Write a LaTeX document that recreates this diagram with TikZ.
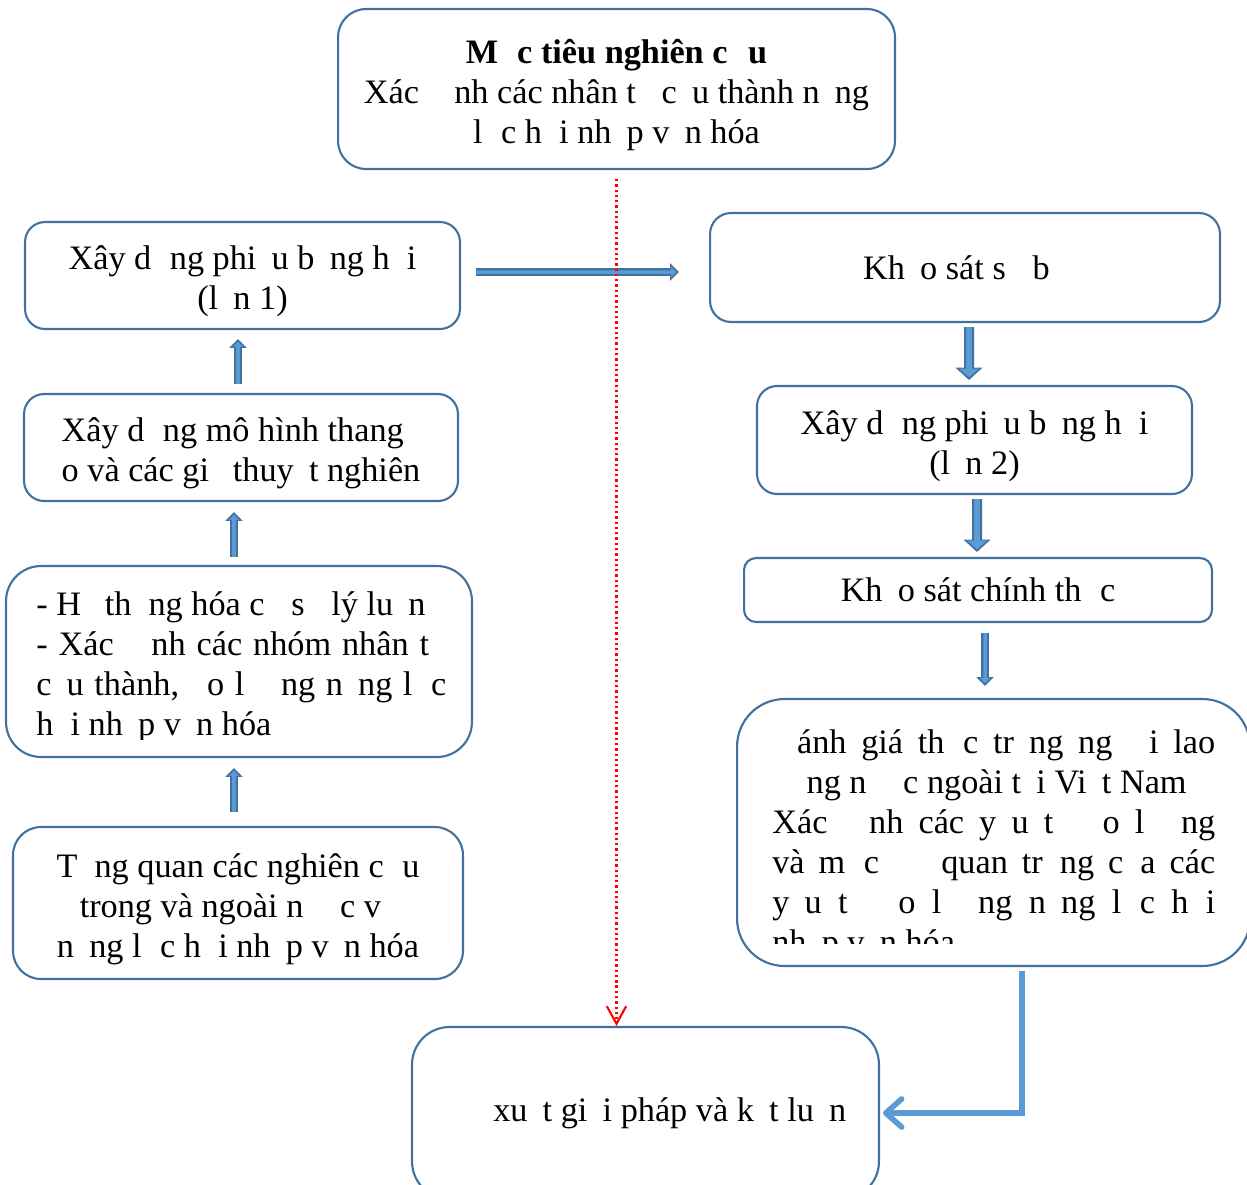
\documentclass[tikz,border=0pt]{standalone}
\usepackage{fontspec}
\setmainfont{Liberation Serif}
\usepackage{tikz}
\usetikzlibrary{arrows.meta, positioning}
\definecolor{boxline}{HTML}{41719C}
\definecolor{arrowfill}{HTML}{5B9BD5}
\definecolor{arrowline}{HTML}{41719C}
\newcommand{\gap}[1]{\hphantom{#1}}
\newcommand{\topstrut}{\rule{0pt}{1.04em}}
\setlength{\parindent}{0pt}
\hyphenpenalty=10000
\exhyphenpenalty=10000
\tolerance=9999

\begin{document}
\begin{tikzpicture}[
    x=0.02cm, y=-0.02cm,
    every node/.style={font=\fontsize{19.5}{22.8}\selectfont},
    box/.style={rectangle, rounded corners=0.4cm, draw=boxline, line width=1.2pt, align=center, inner sep=2pt},
    txt/.style={align=justify, inner sep=0pt, anchor=north west},
    blockarr/.style={preaction={draw=arrowline, line width=4.4pt, -{Triangle[width=9.5pt, length=5pt]}, shorten >=0pt},
        draw=arrowfill, line width=2pt, -{Triangle[width=5.6pt, length=3pt]}, shorten >=1.5pt},
    bigarr/.style={preaction={draw=arrowline, line width=5.7pt, -{Triangle[width=15pt, length=7pt]}, shorten >=0pt},
        draw=arrowfill, line width=3.3pt, -{Triangle[width=11pt, length=5pt]}, shorten >=1.5pt},
    redarr/.style={draw=red, line width=1.3pt, dash pattern=on 1.3pt off 1.7pt, -{Straight Barb[width=11pt, length=10pt, line width=1.2pt]}},
    elbow/.style={draw=arrowfill, line width=3.2pt, -{Straight Barb[width=16pt, length=9pt, round]}}
]
\useasboundingbox (0,0) rectangle (1247,1184);
\clip (0,0) rectangle (1247,1184);

\node (muctieu) [box, minimum width=11.14cm, minimum height=3.2cm, rounded corners=0.56cm] at (616.5,89)
    {\topstrut\textbf{M\gap{ụ}c tiêu nghiên c\gap{ứ}u}\\
     Xác \gap{đị}nh các nhân t\gap{ố} c\gap{ấ}u thành n\gap{ă}ng\\
     l\gap{ự}c h\gap{ộ}i nh\gap{ậ}p v\gap{ă}n hóa};

\node (phieu1) [box, minimum width=8.7cm, minimum height=2.14cm] at (242.5,275.5)
    {\topstrut Xây d\gap{ự}ng phi\gap{ế}u b\gap{ả}ng h\gap{ỏ}i\\(l\gap{ầ}n 1)};
\node (mohinh) [box, minimum width=8.68cm, minimum height=2.14cm, align=left] at (241,447.5)
    {\topstrut Xây d\gap{ự}ng mô hình thang\\o và các gi\gap{ả} thuy\gap{ế}t nghiên};
\node (hethong) [box, minimum width=9.32cm, minimum height=3.82cm, rounded corners=0.7cm] at (239,661.5) {};
\begin{scope}
    \clip (hethong.north west) rectangle ([yshift=0.38cm]hethong.south east);
    \node (hethongtext) [txt, text width=8.2cm] at (36,591)
        {- H\gap{ệ} th\gap{ố}ng hóa c\gap{ơ} s\gap{ở} lý lu\gap{ậ}n\\
         - Xác \gap{đị}nh các nhóm nhân t\gap{ố}\linebreak
         c\gap{ấ}u thành, \gap{đ}o l\gap{ườ}ng n\gap{ă}ng l\gap{ự}c\linebreak
         h\gap{ộ}i nh\gap{ậ}p v\gap{ă}n hóa};
\end{scope}
\node (tongquan) [box, minimum width=9cm, minimum height=3.04cm, rounded corners=0.56cm] at (238,903)
    {\topstrut T\gap{ổ}ng quan các nghiên c\gap{ứ}u\\
     trong và ngoài n\gap{ướ}c v\gap{ề}\\
     n\gap{ă}ng l\gap{ự}c h\gap{ộ}i nh\gap{ậ}p v\gap{ă}n hóa};

\node (khaosat) [box, minimum width=10.2cm, minimum height=2.18cm, rounded corners=0.42cm] at (965,267.5)
    {Kh\gap{ả}o sát s\gap{ơ} b\gap{ộ}};
\node (phieu2) [box, minimum width=8.7cm, minimum height=2.16cm] at (974.5,440)
    {\topstrut Xây d\gap{ự}ng phi\gap{ế}u b\gap{ả}ng h\gap{ỏ}i\\(l\gap{ầ}n 2)};
\node (chinhthuc) [box, minimum width=9.36cm, minimum height=1.28cm, rounded corners=0.24cm] at (978,590)
    {Kh\gap{ả}o sát chính th\gap{ứ}c};
\node (danhgia) [box, minimum width=10.26cm, minimum height=5.34cm, rounded corners=0.95cm] at (993.5,832.5) {};
\begin{scope}
    \clip (danhgia.north west) rectangle ([yshift=0.48cm]danhgia.south east);
    \node (danhgiatext) [txt, text width=8.86cm] at (772,729)
        {\gap{Đ}ánh giá th\gap{ự}c tr\gap{ạ}ng ng\gap{ườ}i lao\linebreak
         \gap{độ}ng n\gap{ướ}c ngoài t\gap{ạ}i Vi\gap{ệ}t Nam\\
         Xác \gap{đị}nh các y\gap{ế}u t\gap{ố} \gap{đ}o l\gap{ườ}ng\linebreak
         và m\gap{ứ}c \gap{độ} quan tr\gap{ọ}ng c\gap{ủ}a các\linebreak
         y\gap{ế}u t\gap{ố} \gap{đ}o l\gap{ườ}ng n\gap{ă}ng l\gap{ự}c h\gap{ộ}i\linebreak
         nh\gap{ậ}p v\gap{ă}n hóa};
\end{scope}
\node (dexuat) [box, minimum width=9.34cm, minimum height=3.44cm, rounded corners=0.75cm] at (645.5,1113)
    {\gap{Đề} xu\gap{ấ}t gi\gap{ả}i pháp và k\gap{ế}t lu\gap{ậ}n};

\draw [blockarr] ([xshift=-0.06cm, yshift=0.18cm]mohinh.north) -- ([xshift=-0.09cm, yshift=-0.18cm]phieu1.south);
\draw [blockarr] ([xshift=-0.1cm, yshift=0.16cm]hethong.north) -- ([xshift=-0.14cm, yshift=-0.2cm]mohinh.south);
\draw [blockarr] ([xshift=-0.08cm, yshift=0.28cm]tongquan.north) -- ([xshift=-0.1cm, yshift=-0.2cm]hethong.south);
\draw [blockarr] ([xshift=0.3cm, yshift=0.07cm]phieu1.east) -- ([xshift=-0.6cm, yshift=-0.09cm]khaosat.west);
\draw [bigarr] ([xshift=0.08cm, yshift=-0.08cm]khaosat.south) -- ([xshift=-0.11cm, yshift=0.1cm]phieu2.north);
\draw [bigarr] ([xshift=0.05cm, yshift=-0.08cm]phieu2.south) -- ([xshift=-0.02cm, yshift=0.1cm]chinhthuc.north);
\draw [blockarr] ([xshift=0.14cm, yshift=-0.2cm]chinhthuc.south) -- ([xshift=-0.17cm, yshift=0.24cm]danhgia.north);
\draw [redarr, shorten <=0.18cm] (muctieu.south) -- (muctieu.south |- dexuat.north);
\draw [elbow, shorten >=0.06cm] ([xshift=0.57cm, yshift=-0.08cm]danhgia.south) |- (dexuat.east);
\end{tikzpicture}
\end{document}
